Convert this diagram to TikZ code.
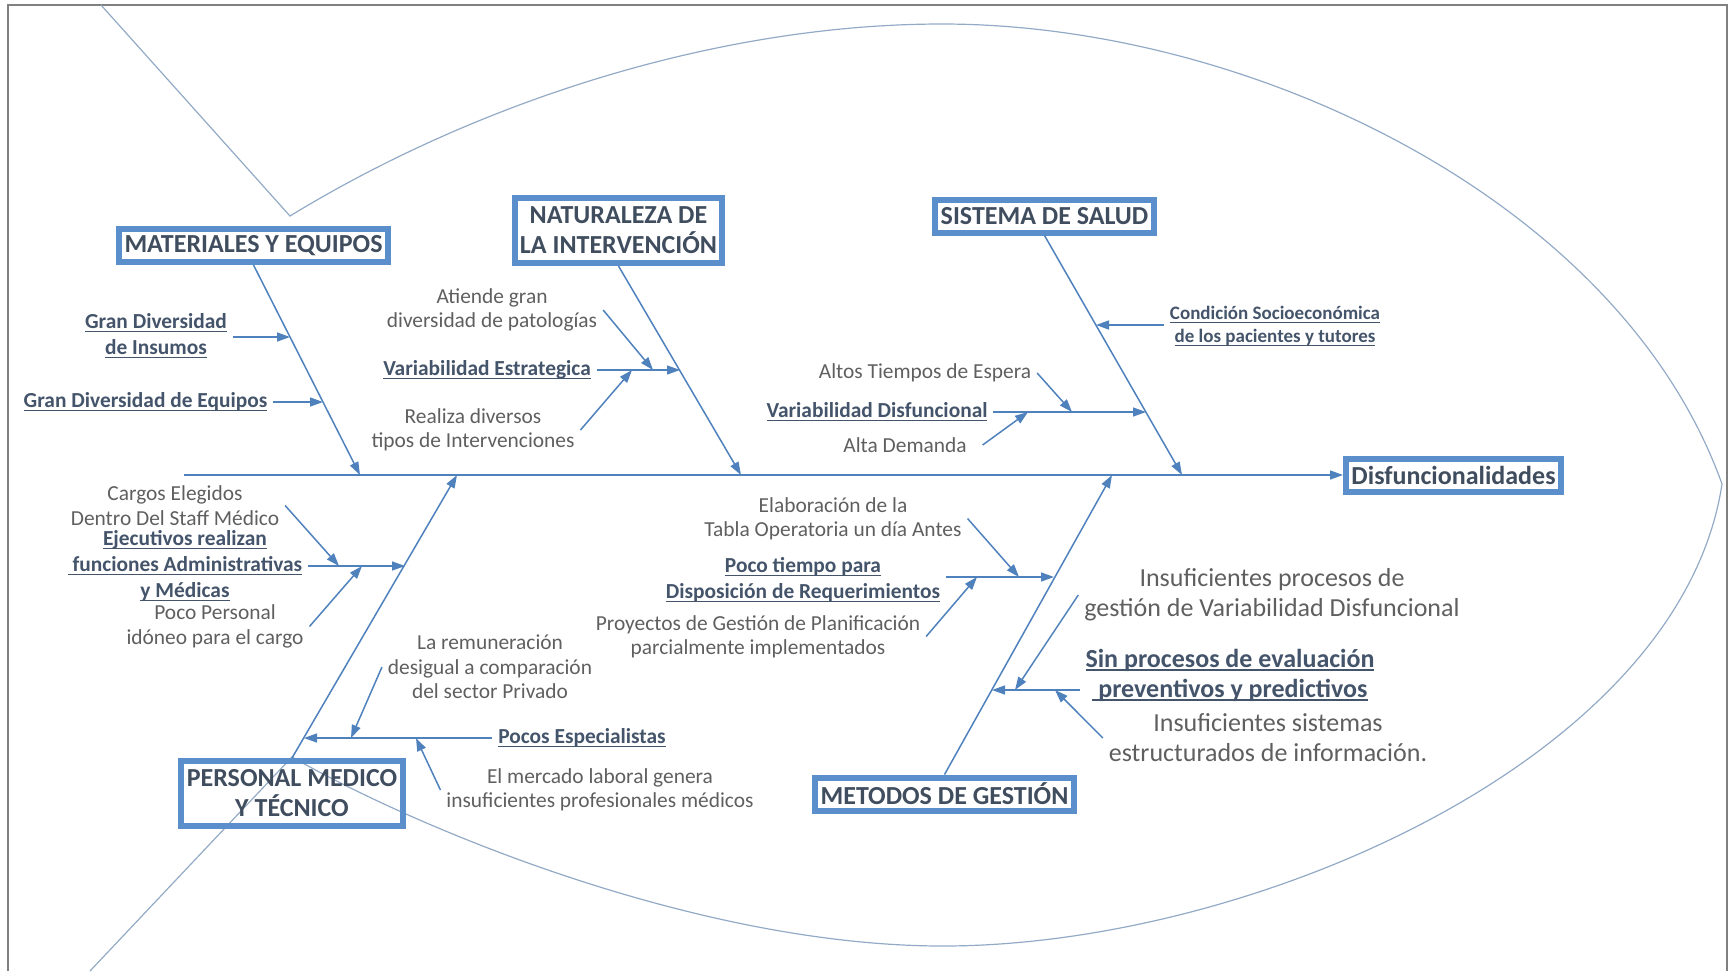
\documentclass[tikz,border=0pt]{standalone}
\usepackage{fontspec}
\setmainfont{Carlito}
\usepackage{xcolor}
\usetikzlibrary{arrows.meta}

\definecolor{azul}{HTML}{4F81BD}
\definecolor{marco}{HTML}{5B8FCC}
\definecolor{titulo}{HTML}{3F4D5E}
\definecolor{gris}{HTML}{5F5F5F}
\definecolor{pizarra}{HTML}{44546A}
\definecolor{contorno}{HTML}{93AAC6}

% 下划线 (Word 风格)
\newcommand{\subr}[1]{\setbox0\hbox{#1}\rlap{\rule[-1.8pt]{\wd0}{0.6pt}}\box0}

\tikzset{
  causa/.style={draw=marco, line width=3pt, text=titulo, align=center,
    font=\bfseries\fontsize{13}{15}\selectfont, inner xsep=2pt, inner ysep=1.5pt},
  nota/.style={text=gris, align=center, inner sep=0pt, outer sep=3pt,
    font=\fontsize{10.7}{12.2}\selectfont},
  clave/.style={nota, text=pizarra, font=\bfseries\fontsize{10.7}{13}\selectfont},
  grande/.style={nota, font=\fontsize{13}{15}\selectfont},
  flecha/.style={azul, line width=0.75pt, -{Triangle[length=6.5pt, width=4.5pt]}},
}

\begin{document}
\begin{tikzpicture}[x=0.5pt, y=-0.5pt]
  \useasboundingbox (0,0) rectangle (1729,971);
  % 外框
  \draw[gray, line width=1pt] (8,971) -- (8,5) -- (1727,5) -- (1727,971);

  % 鱼形轮廓
  \draw[contorno, line width=0.6pt] (101,5) -- (290,216)
    .. controls (480,100) and (720,24) .. (942,24)
    .. controls (1250,24) and (1620,200) .. (1722,484)
    .. controls (1680,760) and (1250,946) .. (943,946)
    .. controls (700,946) and (420,830) .. (292,757) -- (90,971);

  % 主干与结果
  \coordinate (cola) at (184,475);
  \node[causa, minimum width=107.5pt, minimum height=16.5pt] (efecto) at (1453.5,475) {Disfuncionalidades};
  \draw[flecha] (cola) -- (efecto.west);

  % 主要原因
  \node[causa, minimum width=134.5pt, minimum height=16.5pt] (mat) at (253.5,245.5) {MATERIALES Y EQUIPOS};
  \node[causa, minimum width=103.5pt, minimum height=32.5pt] (nat) at (618.5,230.5) {NATURALEZA DE\\LA INTERVENCIÓN};
  \node[causa, minimum width=109.5pt, minimum height=16.5pt] (sis) at (1044.5,216) {SISTEMA DE SALUD};
  \node[causa, minimum width=111pt, minimum height=32.5pt] (per) at (292,793.5) {PERSONAL MEDICO\\Y TÉCNICO};
  \node[causa, minimum width=129.5pt, minimum height=16.5pt] (met) at (944.5,794) {METODOS DE GESTIÓN};

  % 鱼骨
  \coordinate (e1) at (360,475);
  \coordinate (e2) at (741,475);
  \coordinate (e3) at (1182,475);
  \coordinate (e4) at (457,475);
  \coordinate (e5) at (1112,475);
  \draw[flecha] (mat.south) -- (e1);
  \draw[flecha] (nat.south) -- (e2);
  \draw[flecha] (sis.south) -- (e3);
  \draw[flecha] (per.north) -- (e4);
  \draw[flecha] (met.north) -- (e5);

  % 材料与设备
  \node[clave] (insumos) at (156,336) {\subr{Gran Diversidad}\\\subr{de Insumos}};
  \node[clave] (equipos) at (145.5,402) {\subr{Gran Diversidad de Equipos}};
  \coordinate (a1) at (290,337);
  \coordinate (a2) at (323,402);
  \draw[flecha] (insumos.east |- a1) -- (a1);
  \draw[flecha] (equipos.east) -- (a2);

  % 干预性质
  \node[nota] (atiende) at (492,310) {Atiende gran\\diversidad de patologías};
  \node[clave] (estrat) at (487,370) {\subr{Variabilidad Estrategica}};
  \node[nota] (realiza) at (473,430) {Realiza diversos\\tipos de Intervenciones};
  \coordinate (b1) at (680,370);
  \coordinate (b2) at (653,370);
  \coordinate (b3) at (632,370);
  \draw[flecha] (estrat.east) -- (b1);
  \draw[flecha] (atiende.east) -- (b2);
  \draw[flecha] (realiza.east) -- (b3);

  % 卫生系统
  \node[clave, font=\bfseries\fontsize{9.5}{11.5}\selectfont] (socio) at (1275,326) {\subr{Condición Socioeconómica}\\\subr{de los pacientes y tutores}};
  \node[nota] (espera) at (925,373) {Altos Tiempos de Espera};
  \node[clave] (disfun) at (877,412) {\subr{Variabilidad Disfuncional}};
  \node[nota] (demanda) at (905,445) {Alta Demanda};
  \coordinate (c1) at (1096,325);
  \coordinate (c2) at (1146,412);
  \coordinate (c3) at (1072,412);
  \coordinate (c4) at (1028,412);
  \draw[flecha] (socio.west |- c1) -- (c1);
  \draw[flecha] (disfun.east) -- (c2);
  \draw[flecha] (espera.east) -- (c3);
  \draw[flecha] ([xshift=5pt]demanda.east) -- (c4);

  % 医疗与技术人员
  \node[nota] (cargos) at (175,505.5) {Cargos Elegidos\\Dentro Del Staff Médico};
  \node[clave] (ejecut) at (185,566) {\subr{Ejecutivos realizan}\\\subr{ funciones Administrativas}\\\subr{y Médicas}};
  \node[nota] (idoneo) at (215,626.5) {Poco Personal\\idóneo para el cargo};
  \node[nota] (remun) at (490,667) {La remuneración\\desigual a comparación\\del sector Privado};
  \node[clave] (especial) at (582,738) {\subr{Pocos Especialistas}};
  \node[nota] (mercado) at (600,790) {El mercado laboral genera\\insuficientes profesionales médicos};
  \coordinate (d1) at (405,566);
  \coordinate (d2) at (339,566);
  \coordinate (d3) at (362,566);
  \coordinate (d4) at (304,738);
  \coordinate (d5) at (351,738);
  \coordinate (d6) at (416,738);
  \draw[flecha] (ejecut.east) -- (d1);
  \draw[flecha] (cargos.east) -- (d2);
  \draw[flecha] (idoneo.east) -- (d3);
  \draw[flecha] (especial.west) -- (d4);
  \draw[flecha] (remun.west) -- (d5);
  \draw[flecha] (mercado.west) -- (d6);

  % 管理方法
  \node[nota] (tabla) at (833,518.5) {Elaboración de la\\Tabla Operatoria un día Antes};
  \node[clave] (requer) at (803,579.5) {\subr{Poco tiempo para}\\\subr{Disposición de Requerimientos}};
  \node[nota] (proyec) at (758,636.5) {Proyectos de Gestión de Planificación\\parcialmente implementados};
  \node[grande] (procesos) at (1272,595) {Insuficientes procesos de\\gestión de Variabilidad Disfuncional};
  \node[clave, font=\bfseries\fontsize{13}{15}\selectfont] (evalua) at (1230,675) {\subr{Sin procesos de evaluación}\\\subr{ preventivos y predictivos}};
  \node[grande] (sistemas) at (1268,738) {Insuficientes sistemas\\estructurados de información.};
  \coordinate (f1) at (1054,577);
  \coordinate (f2) at (1019,577);
  \coordinate (f3) at (977,577);
  \coordinate (f4) at (992,690);
  \coordinate (f5) at (1015,690);
  \coordinate (f6) at (1055,690);
  \draw[flecha] (requer.east |- f1) -- (f1);
  \draw[flecha] (tabla.east) -- (f2);
  \draw[flecha] (proyec.east) -- (f3);
  \draw[flecha] (evalua.west |- f4) -- (f4);
  \draw[flecha] (procesos.west) -- (f5);
  \draw[flecha] (sistemas.west) -- (f6);
\end{tikzpicture}
\end{document}
